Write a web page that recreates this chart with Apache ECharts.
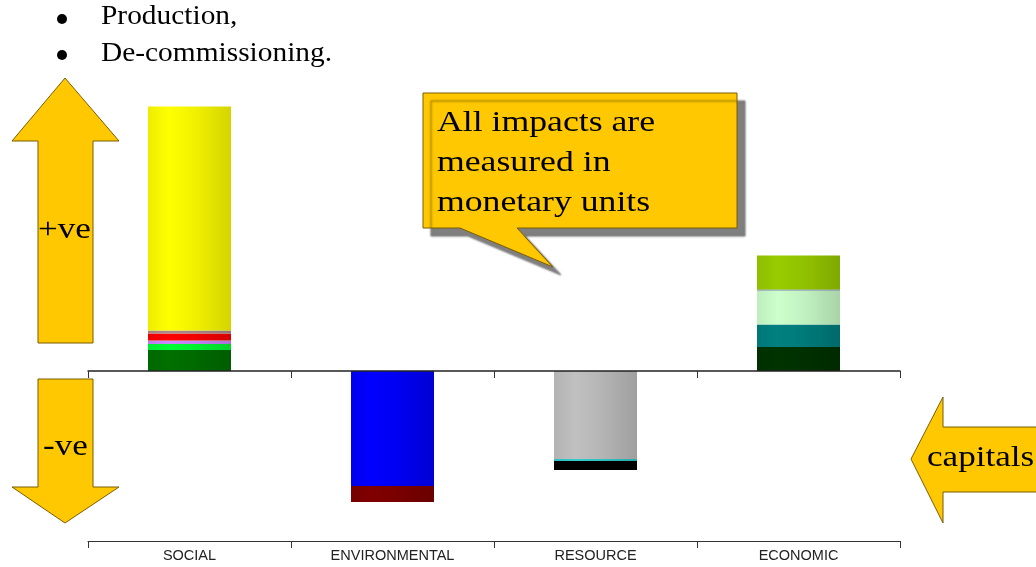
<!DOCTYPE html>
<html>
<head>
<meta charset="utf-8">
<script src="https://cdn.jsdelivr.net/npm/echarts@6/dist/echarts.min.js"></script>
<style>
  html, body { margin: 0; padding: 0; background: #fff; }
  #chart { width: 1036px; height: 567px; }
</style>
</head>
<body>
<div id="chart"></div>
<script>
// capital groups along the axis
const categories = ['SOCIAL', 'ENVIRONMENTAL', 'RESOURCE', 'ECONOMIC']

// stacked impact segments per capital, from the zero line outward (monetary units)
const socialImpacts = [10.5, 3, 1.75, 3.5, 1.5, 112]
const environmentalImpacts = [-57.5, -8]
const resourceImpacts = [-44, -1, -4.5]
const economicImpacts = [12, 11.3, 17, 0.5, 17]

// colours of the segments, same order
const socialColors = ['#007000', '#00ff33', '#cc88ff', '#ff0000', '#b08a8a', '#ffff00']
const environmentalColors = ['#0000ff', '#800000']
const resourceColors = ['#c0c0c0', '#33cccc', '#000000']
const economicColors = ['#003300', '#008080', '#ccffcc', '#6680a0', '#99cc00']

function shade (hex, f) {
  const n = parseInt(hex.slice(1), 16)
  const r = Math.round(((n >> 16) & 255) * f)
  const g = Math.round(((n >> 8) & 255) * f)
  const b = Math.round((n & 255) * f)
  return 'rgb(' + r + ',' + g + ',' + b + ')'
}

function barFill (hex) {
  return {
    type: 'linear', x: 0, y: 0, x2: 1, y2: 0,
    colorStops: [
      { offset: 0, color: shade(hex, 0.93) },
      { offset: 0.25, color: shade(hex, 1) },
      { offset: 0.55, color: shade(hex, 0.95) },
      { offset: 1, color: shade(hex, 0.83) }
    ]
  }
}

const groups = [
  { values: socialImpacts, colors: socialColors },
  { values: environmentalImpacts, colors: environmentalColors },
  { values: resourceImpacts, colors: resourceColors },
  { values: economicImpacts, colors: economicColors }
]

const series = []
groups.forEach((grp, ci) => {
  grp.values.forEach((v, i) => {
    series.push({
      type: 'bar',
      stack: 'capitals',
      xAxisIndex: 0,
      barWidth: 83,
      data: categories.map((c, k) => (k === ci ? v : null)),
      itemStyle: { color: barFill(grp.colors[i]) }
    })
  })
})

const yellow = '#ffc800'
const edge = '#7a5c00'
const serif = 'Liberation Serif'

echarts.init(document.getElementById('chart')).setOption({
  animation: false,
  grid: { left: 88, right: 136, top: 101, bottom: 26, outerBoundsMode: 'none' },
  xAxis: [
    {
      type: 'category',
      data: categories,
      position: 'bottom',
      axisLine: { onZero: false, lineStyle: { color: '#333', width: 1 } },
      axisTick: { show: true, inside: false, length: 7, lineStyle: { color: '#333' } },
      axisLabel: { margin: 7, fontFamily: 'Liberation Sans', fontSize: 14.5, color: '#222' }
    },
    {
      type: 'category',
      data: categories,
      position: 'bottom',
      z: 5,
      axisLine: { onZero: true, onZeroAxisIndex: 0, lineStyle: { color: '#222', width: 1.5 } },
      axisTick: { show: true, inside: false, length: 7, lineStyle: { color: '#333' } },
      axisLabel: { show: false }
    }
  ],
  yAxis: { type: 'value', min: -85, max: 135, show: false, splitLine: { show: false } },
  series: series,
  graphic: [
    // bullet lines
    { type: 'circle', shape: { cx: 62, cy: 19, r: 5 }, style: { fill: '#000' } },
    { type: 'circle', shape: { cx: 62, cy: 55, r: 5 }, style: { fill: '#000' } },
    { type: 'text', x: 101, y: 17, scaleX: 1.05, style: { text: 'Production,', fontFamily: serif, fontSize: 28, fill: '#000', textVerticalAlign: 'middle' } },
    { type: 'text', x: 101, y: 53.5, scaleX: 1.05, style: { text: 'De-commissioning.', fontFamily: serif, fontSize: 28, fill: '#000', textVerticalAlign: 'middle' } },
    // +ve / -ve arrows
    {
      type: 'polygon',
      shape: { points: [[65, 78], [119, 141], [93, 141], [93, 343], [38, 343], [38, 141], [12, 141]] },
      style: { fill: yellow, stroke: edge, lineWidth: 1 }
    },
    {
      type: 'polygon',
      shape: { points: [[38, 379], [93, 379], [93, 487], [119, 487], [65, 523], [12, 487], [38, 487]] },
      style: { fill: yellow, stroke: edge, lineWidth: 1 }
    },
    { type: 'text', x: 38, y: 230, scaleX: 1.17, style: { text: '+ve', fontFamily: serif, fontSize: 30, fill: '#000', textVerticalAlign: 'middle' } },
    { type: 'text', x: 43, y: 447, scaleX: 1.17, style: { text: '-ve', fontFamily: serif, fontSize: 30, fill: '#000', textVerticalAlign: 'middle' } },
    // capitals arrow
    {
      type: 'polygon',
      shape: { points: [[911, 459], [943, 397], [943, 427], [1040, 427], [1040, 492], [943, 492], [943, 523]] },
      style: { fill: yellow, stroke: edge, lineWidth: 1 }
    },
    { type: 'text', x: 927, y: 458, scaleX: 1.17, style: { text: 'capitals', fontFamily: serif, fontSize: 30, fill: '#000', textVerticalAlign: 'middle' } },
    // callout
    {
      type: 'polygon',
      shape: { points: [[423, 93], [737, 93], [737, 228], [517, 228], [553, 267], [460, 228], [423, 228]] },
      style: {
        fill: yellow, stroke: edge, lineWidth: 1,
        shadowColor: 'rgba(0,0,0,0.5)', shadowOffsetX: 8, shadowOffsetY: 8, shadowBlur: 2
      }
    },
    {
      type: 'text', x: 437, y: 163, scaleX: 1.19,
      style: {
        text: 'All impacts are\nmeasured in\nmonetary units',
        fontFamily: serif, fontSize: 30, lineHeight: 40, fill: '#000', textVerticalAlign: 'middle'
      }
    }
  ]
})
</script>
</body>
</html>
